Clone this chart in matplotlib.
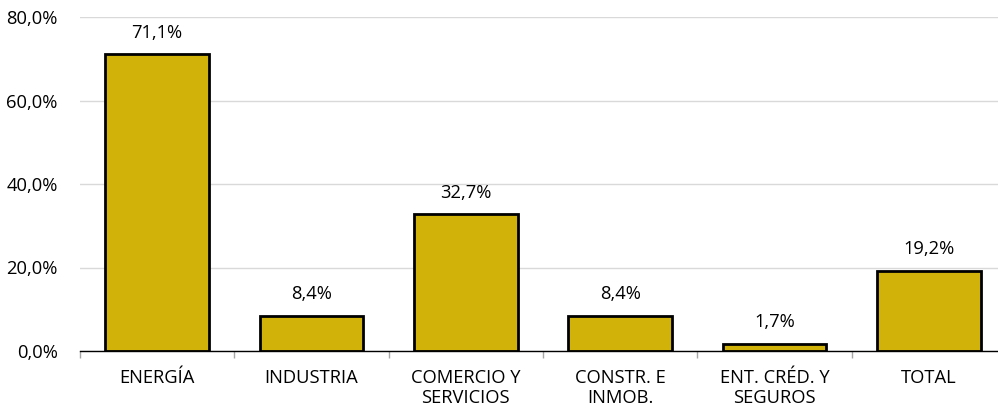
import matplotlib.pyplot as plt
from matplotlib.ticker import FuncFormatter

categories = ["ENERGÍA", "INDUSTRIA", "COMERCIO Y\nSERVICIOS", "CONSTR. E\nINMOB.",
              "ENT. CRÉD. Y\nSEGUROS", "TOTAL"]
values = [71.1, 8.4, 32.7, 8.4, 1.7, 19.2]
yticks = [0, 20, 40, 60, 80]

plt.rcParams["font.family"] = ["Open Sans", "DejaVu Sans"]

fig = plt.figure(figsize=(9.98, 4.13), dpi=100)
ax = fig.add_axes([80 / 998, 62 / 413, 926 / 998, 334 / 413])

x = list(range(len(categories)))
ax.bar(x, values, width=0.67, color="#D1B208", edgecolor="black", linewidth=2, zorder=3)

for xi, v in zip(x, values):
    ax.text(xi, v + 3, f"{v:.1f}%".replace(".", ","), ha="center", va="bottom", fontsize=13.2)

ax.set_ylim(0, 80)
ax.set_xlim(-0.5, 5.5)
ax.set_yticks(yticks)
ax.yaxis.set_major_formatter(FuncFormatter(lambda v, p: f"{v:.1f}%".replace(".", ",")))
ax.grid(axis="y", color="#D9D9D9", linewidth=1, zorder=0)

ax.set_xticks([i + 0.5 for i in range(-1, len(categories))], minor=False)
ax.set_xticklabels([])
ax.set_xticks(x, minor=True)
ax.set_xticklabels(categories, minor=True, fontsize=13.2, linespacing=1.15)
ax.tick_params(axis="x", which="major", length=5, color="#A6A6A6", width=1)
ax.tick_params(axis="x", which="minor", length=0, pad=13)
ax.tick_params(axis="y", length=0, labelsize=13.2, pad=16)

for s in ["top", "right", "left"]:
    ax.spines[s].set_visible(False)
ax.spines["bottom"].set_color("black")
ax.spines["bottom"].set_linewidth(1)
ax.spines["bottom"].set_zorder(4)

fig.savefig("out.png", dpi=100)
